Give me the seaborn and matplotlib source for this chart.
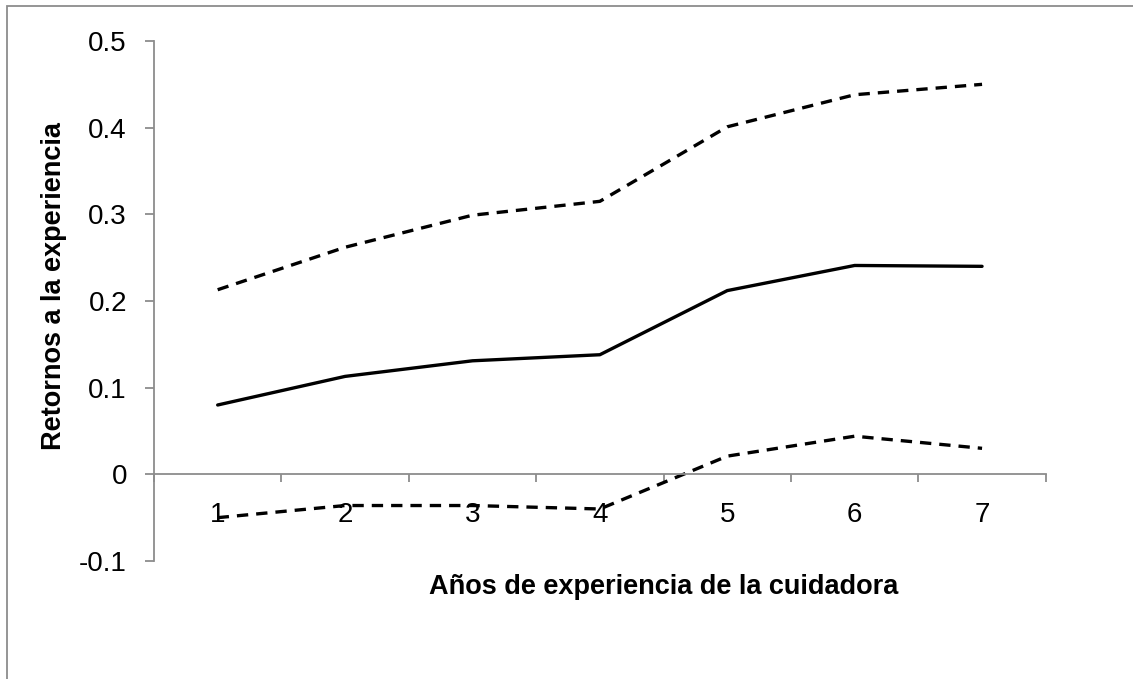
import pandas as pd
import matplotlib.pyplot as plt
import matplotlib.patches as mpatches
from matplotlib.ticker import FixedLocator, NullFormatter
import seaborn as sb

years = [1, 2, 3, 4, 5, 6, 7]
upper = [0.213, 0.262, 0.299, 0.315, 0.401, 0.438, 0.450]
estimate = [0.080, 0.113, 0.131, 0.138, 0.212, 0.241, 0.240]
lower = [-0.050, -0.036, -0.036, -0.040, 0.021, 0.044, 0.030]

df = pd.concat([
    pd.DataFrame({"year": years, "ret": upper, "serie": "upper"}),
    pd.DataFrame({"year": years, "ret": estimate, "serie": "mid"}),
    pd.DataFrame({"year": years, "ret": lower, "serie": "lower"}),
])

sb.set_theme(style="white")
plt.rcParams['font.family'] = ['Liberation Sans', 'DejaVu Sans']
plt.rcParams['text.color'] = 'black'
plt.rcParams['axes.labelcolor'] = 'black'

fig = plt.figure(figsize=(11.33, 6.79), dpi=100)
ax = fig.add_axes([0.1359, 0.1738, 0.9230 - 0.1359, 0.9396 - 0.1738])

sb.lineplot(data=df, x="year", y="ret", style="serie", color="black", linewidth=2.4,
            dashes={"upper": (3.4, 2.4), "mid": "", "lower": (3.4, 2.4)},
            legend=False, ax=ax)

ax.set_xlim(0.5, 7.5)
ax.set_ylim(-0.1, 0.5)
ax.set_yticks([-0.1, 0, 0.1, 0.2, 0.3, 0.4, 0.5])
ax.set_yticklabels(["-0.1", "0", "0.1", "0.2", "0.3", "0.4", "0.5"])

# ticks between categories, labels at categories
ax.xaxis.set_major_locator(FixedLocator([0.5 + i for i in range(8)]))
ax.xaxis.set_major_formatter(NullFormatter())
ax.xaxis.set_minor_locator(FixedLocator(years))
ax.set_xticklabels([str(y) for y in years], minor=True)

axis_col = "#8c8c8c"
for s in ["top", "right"]:
    ax.spines[s].set_visible(False)
ax.spines["bottom"].set_position(("data", 0))
for s in ["bottom", "left"]:
    ax.spines[s].set_color(axis_col)
    ax.spines[s].set_linewidth(1.3)

ax.tick_params(axis="x", which="major", direction="out", length=6, width=1.3,
               color=axis_col, bottom=True)
ax.tick_params(axis="x", which="minor", length=0, pad=20, labelsize=20, labelcolor="black")
ax.tick_params(axis="y", direction="out", length=6.5, width=1.3, color=axis_col,
               left=True, pad=13, labelsize=20, labelcolor="black")

ax.set_xlabel("Años de experiencia de la cuidadora", fontsize=19.5, fontweight="bold",
              color="black")
ax.set_ylabel("Retornos a la experiencia", fontsize=19.5, fontweight="bold", color="black")
ax.xaxis.set_label_coords(0.571, -0.05)
ax.yaxis.set_label_coords(-0.112, 0.529)
ax.xaxis.label.set_va("center")
ax.yaxis.label.set_va("center")

fig.add_artist(mpatches.Rectangle((7 / 1133, -0.05), 1.1, (1 - 6 / 679) + 0.05,
                                  transform=fig.transFigure, fill=False,
                                  edgecolor=axis_col, linewidth=1.3))

fig.savefig("out.png", dpi=100)
